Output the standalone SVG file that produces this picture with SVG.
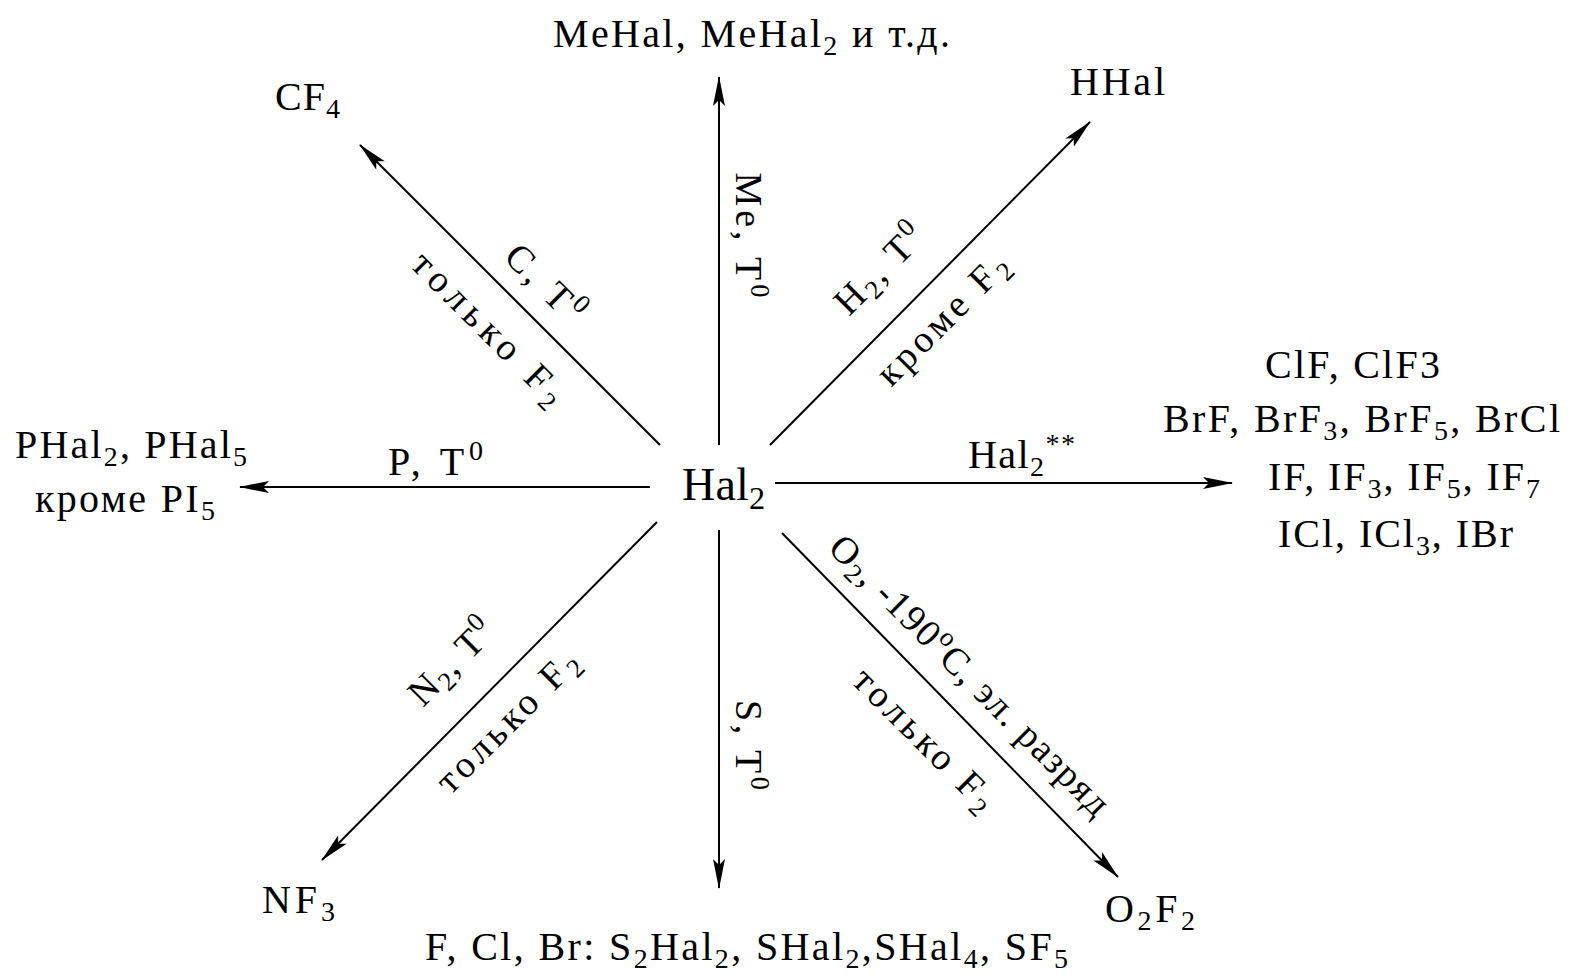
<svg xmlns="http://www.w3.org/2000/svg" width="1575" height="978" viewBox="0 0 1575 978">
<style>
text{font-family:"Liberation Serif","DejaVu Serif",serif;fill:#000;font-size:40px}
.lbl{font-size:38px}
.ctr{font-size:46px}
.sub{baseline-shift:-0.28em;font-size:70%}
.sup{baseline-shift:0.55em;font-size:70%}
.ln{stroke:#000;stroke-width:2;fill:none;marker-end:url(#ah)}
</style>
<defs>
<marker id="ah" markerUnits="userSpaceOnUse" viewBox="0 0 30 14" refX="29" refY="7" markerWidth="30" markerHeight="14" orient="auto">
<path d="M0,1 L30,7 L0,13 L6,7 Z" fill="#000"/>
</marker>
</defs>
<rect width="1575" height="978" fill="#fff"/>
<g id="connectors">
<line class="ln" x1="719" y1="445" x2="719" y2="77"/>
<line class="ln" x1="719" y1="530" x2="719" y2="888"/>
<line class="ln" x1="775" y1="483" x2="1232" y2="483"/>
<line class="ln" x1="650" y1="487" x2="240" y2="487"/>
<line class="ln" x1="660" y1="445" x2="360" y2="145"/>
<line class="ln" x1="770" y1="445" x2="1090" y2="122"/>
<line class="ln" x1="657" y1="522" x2="322" y2="860"/>
<line class="ln" x1="782" y1="533" x2="1118" y2="877"/>
</g>
<g id="center"><text class="ctr" x="682" y="500" textLength="83">Hal<tspan class="sub">2</tspan></text></g>
<g id="top"><text x="553" y="47" textLength="397">MeHal, MeHal<tspan class="sub">2</tspan> и т.д.</text></g>
<g id="cf4"><text x="275" y="110" textLength="65">CF<tspan class="sub">4</tspan></text></g>
<g id="hhal"><text x="1070" y="95" textLength="95">HHal</text></g>
<g id="interhal">
<text x="1265" y="378" textLength="175">ClF, ClF3</text>
<text x="1163" y="432" textLength="397">BrF, BrF<tspan class="sub">3</tspan>, BrF<tspan class="sub">5</tspan>, BrCl</text>
<text x="1268" y="490" textLength="272">IF, IF<tspan class="sub">3</tspan>, IF<tspan class="sub">5</tspan>, IF<tspan class="sub">7</tspan></text>
<text x="1278" y="547" textLength="235">ICl, ICl<tspan class="sub">3</tspan>, IBr</text>
</g>
<g id="phal">
<text x="15" y="458" textLength="232">PHal<tspan class="sub">2</tspan>, PHal<tspan class="sub">5</tspan></text>
<text x="35" y="512" textLength="180">кроме PI<tspan class="sub">5</tspan></text>
</g>
<g id="nf3"><text x="262" y="913" textLength="73">NF<tspan class="sub">3</tspan></text></g>
<g id="o2f2"><text x="1105" y="922" textLength="90">O<tspan class="sub">2</tspan>F<tspan class="sub">2</tspan></text></g>
<g id="sulfur"><text x="425" y="960" textLength="643">F, Cl, Br: S<tspan class="sub">2</tspan>Hal<tspan class="sub">2</tspan>, SHal<tspan class="sub">2</tspan>,SHal<tspan class="sub">4</tspan>, SF<tspan class="sub">5</tspan></text></g>
<g id="labels">
<text x="388" y="475" textLength="95">P, T<tspan class="sup">0</tspan></text>
<text x="968" y="468" textLength="107">Hal<tspan class="sub">2</tspan><tspan class="sup">**</tspan></text>
<text class="lbl" text-anchor="middle" transform="translate(736,235) rotate(90)" textLength="125">Me, T<tspan class="sup">0</tspan></text>
<text class="lbl" text-anchor="middle" transform="translate(736,745) rotate(90)" textLength="90">S, T<tspan class="sup">0</tspan></text>
<text class="lbl" text-anchor="middle" transform="translate(536,292) rotate(45)" textLength="95">C, T<tspan class="sup">0</tspan></text>
<text class="lbl" text-anchor="middle" transform="translate(480,337) rotate(45)" textLength="200">только F<tspan class="sub">2</tspan></text>
<text class="lbl" text-anchor="middle" transform="translate(888,278) rotate(-45)" textLength="110">H<tspan class="sub">2</tspan>, T<tspan class="sup">0</tspan></text>
<text class="lbl" text-anchor="middle" transform="translate(951,328) rotate(-45)" textLength="170">кроме F<tspan class="sub">2</tspan></text>
<text class="lbl" text-anchor="middle" transform="translate(460,671) rotate(-45)" textLength="105">N<tspan class="sub">2</tspan>, T<tspan class="sup">0</tspan></text>
<text class="lbl" text-anchor="middle" transform="translate(516,730) rotate(-45)" textLength="185">только F<tspan class="sub">2</tspan></text>
<text class="lbl" text-anchor="middle" transform="translate(961,684) rotate(45)" textLength="380">O<tspan class="sub">2</tspan>, -190<tspan class="sup">o</tspan>C, эл. разряд</text>
<text class="lbl" text-anchor="middle" transform="translate(916,748) rotate(45)" textLength="185">только F<tspan class="sub">2</tspan></text>
</g>
</svg>
